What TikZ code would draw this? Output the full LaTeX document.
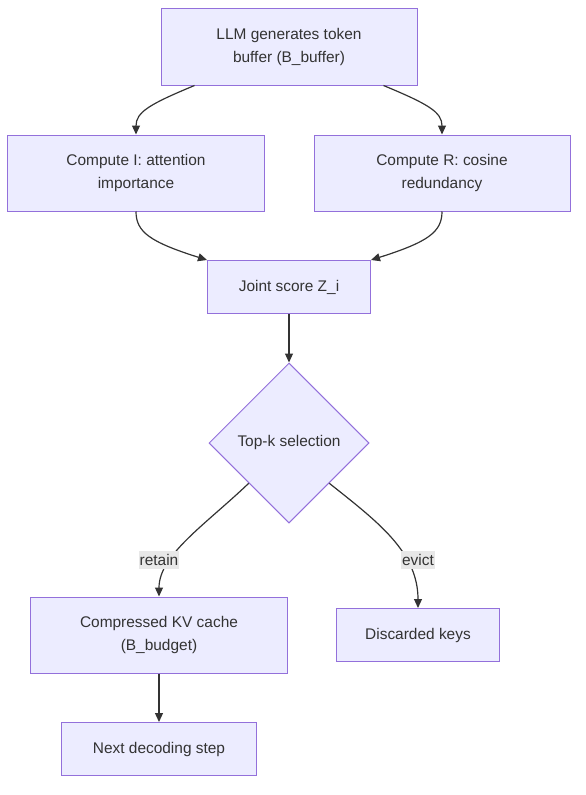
\documentclass[tikz,border=0pt]{standalone}
\usepackage{fontspec}
\setmainfont{Liberation Sans}
\usetikzlibrary{arrows.meta,shapes.geometric}
\definecolor{boxfill}{HTML}{ECECFF}
\definecolor{boxline}{HTML}{9370DB}
\definecolor{edgecol}{HTML}{333333}
\definecolor{tagfill}{HTML}{E8E8E8}
\begin{document}
\begin{tikzpicture}[x=1bp, y=-1bp, >={Triangle[length=9bp,width=8bp]},
  box/.style={draw=boxline, fill=boxfill, line width=1bp, text=edgecol, align=center,
    inner sep=0pt, minimum height=53bp, font=\fontsize{15.5}{24}\selectfont},
  wide/.style={box, minimum width=256bp, minimum height=76bp},
  choice/.style={box, diamond, minimum width=160bp, minimum height=160bp},
  flow/.style={->, draw=edgecol, line width=1.2bp},
  tag/.style={fill=tagfill, text=edgecol, inner xsep=1bp, inner ysep=3bp,
    font=\fontsize{15.5}{18}\selectfont}]
\useasboundingbox (0,0) rectangle (586,795);

\node[wide] (llm) at (289,47) {LLM generates token\\ buffer (B\_buffer)};
\node[wide] (imp) at (136,173) {Compute I: attention\\ importance};
\node[wide] (red) at (442,173) {Compute R: cosine\\ redundancy};
\node[box, minimum width=163bp] (joint) at (289,287) {Joint score Z\_i};
\node[choice] (topk) at (289,443) {Top-k selection};
\node[wide] (kv) at (159,635) {Compressed KV cache\\ (B\_budget)};
\node[box, minimum width=163bp] (drop) at (418,635) {Discarded keys};
\node[box, minimum width=195bp] (next) at (159,749) {Next decoding step};

\draw[flow] ([xshift=34bp]llm.south west) .. controls (150,104) and (136,112) .. (imp.north);
\draw[flow] ([xshift=-34bp]llm.south east) .. controls (428,104) and (442,112) .. (red.north);
\draw[flow] (imp.south) .. controls (136,232) and (150,242) .. (joint.north west);
\draw[flow] (red.south) .. controls (442,232) and (428,242) .. (joint.north east);
\draw[flow] (joint.south) -- (topk.north);
\draw[flow] (topk.south west) .. controls (205,525) and (159,555) .. (kv.north);
\draw[flow] (topk.south east) .. controls (378,522) and (418,552) .. (drop.north);
\draw[flow] (kv.south) -- (next.north);

\node[tag] (retain) at (159,560) {retain};
\node[tag] (evict) at (418,560) {evict};
\end{tikzpicture}
\end{document}
